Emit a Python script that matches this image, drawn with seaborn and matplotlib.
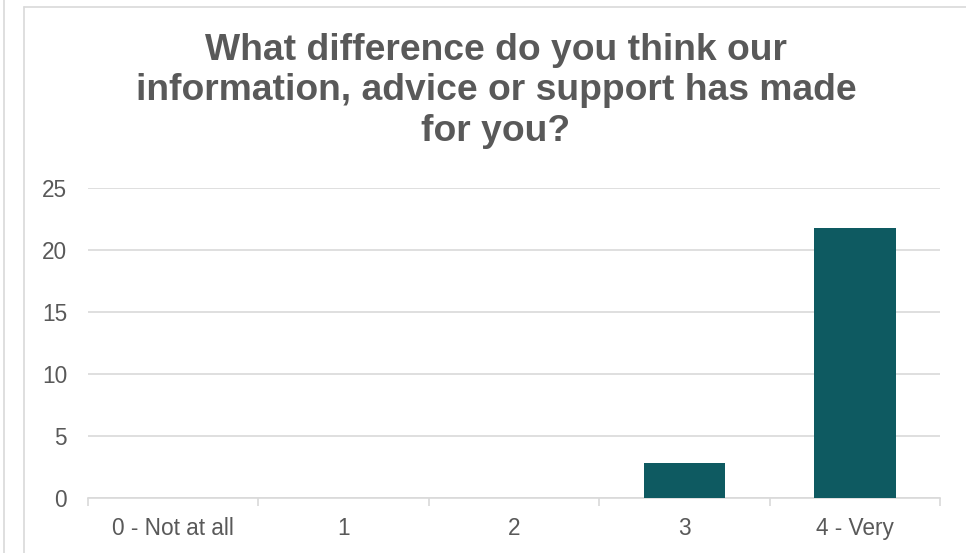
import matplotlib
matplotlib.use("Agg")
import matplotlib.pyplot as plt
import seaborn as sns
import pandas as pd
from matplotlib.lines import Line2D
from matplotlib.ticker import FixedLocator

categories = ["0 - Not at all", "1", "2", "3", "4 - Very"]
values = [0, 0, 0, 2.8, 21.8]
yticks = [0, 5, 10, 15, 20, 25]
title = "What difference do you think our\ninformation, advice or support has made\nfor you?"

sns.set_theme(style="white")
plt.rcParams['font.family'] = ['Liberation Sans', 'DejaVu Sans']

W, H = 966, 553
fig = plt.figure(figsize=(W/100, H/100), dpi=100)
ax = fig.add_axes([88/W, (H-498)/H, (940-88)/W, (498-188)/H])

df = pd.DataFrame({"cat": categories, "val": values})
sns.barplot(data=df, x="cat", y="val", ax=ax, color="#0e5a61", width=0.48,
            saturation=1, edgecolor="none", zorder=3)

ax.set_xlim(-0.5, 4.5)
ax.set_ylim(0, 25)
ax.set_yticks(yticks)
ax.set_yticklabels([str(t) for t in yticks])
ax.grid(axis="y", color="#d9d9d9", linewidth=1.2, zorder=0)
ax.set_axisbelow(True)
for s in ["top", "right", "left"]:
    ax.spines[s].set_visible(False)
ax.spines["bottom"].set_color("#d9d9d9")
ax.spines["bottom"].set_linewidth(1.2)
ax.set_xlabel("")
ax.set_ylabel("")
ax.tick_params(axis="both", which="major", length=0, labelsize=16.3,
               labelcolor="#595959")
ax.tick_params(axis="x", which="major", pad=14)
ax.tick_params(axis="y", which="major", pad=15)
ax.xaxis.set_minor_locator(FixedLocator([-0.5, 0.5, 1.5, 2.5, 3.5, 4.5]))
ax.tick_params(axis="x", which="minor", length=6, color="#d9d9d9", width=1.2,
               direction="out", bottom=True)

fig.text(496/W, 1-91/H, title, ha="center", va="center",
         fontsize=26.8, fontweight="bold", color="#595959", linespacing=1.22)

# chart frame borders
fig.add_artist(Line2D([23.5/W, 23.5/W], [0, 1-6.5/H], transform=fig.transFigure,
                      color="#d9d9d9", linewidth=1.2))
fig.add_artist(Line2D([23.5/W, 1], [1-6.5/H, 1-6.5/H], transform=fig.transFigure,
                      color="#d9d9d9", linewidth=1.2))
fig.add_artist(Line2D([3.5/W, 3.5/W], [0, 1], transform=fig.transFigure,
                      color="#d9d9d9", linewidth=1.2))

fig.savefig("out.png", dpi=100)
